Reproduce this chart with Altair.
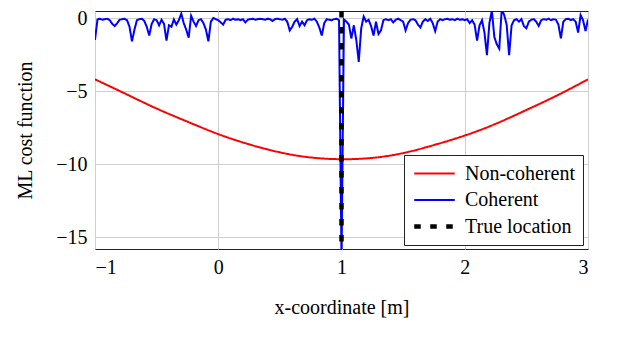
import altair as alt
import pandas as pd

# ---------------- data ----------------
series_names = ["Non-coherent", "Coherent", "True location"]
series_colors = ["#ff0000", "#0000ff", "#000000"]

x_ticks = [-1, 0, 1, 2, 3]
y_ticks = [-15, -10, -5, 0]

# Non-coherent ML cost (red)
nc_x = [-1.0, -0.75, -0.5, -0.25, 0.0, 0.25, 0.5, 0.75, 1.0,
        1.25, 1.5, 1.75, 2.0, 2.25, 2.5, 2.75, 3.0]
nc_y = [-4.2, -5.2, -6.2, -7.1, -7.95, -8.65, -9.2, -9.55, -9.67,
        -9.58, -9.25, -8.7, -8.05, -7.25, -6.3, -5.3, -4.2]

# Coherent ML cost (blue), sampled every 0.02 m from -1 to 3
coh_x = [round(-1 + 0.02 * i, 2) for i in range(201)]
coh_y = [
    -1.5, -0.1, -0.05, -0.12, -0.08, -0.05, -0.15, -0.4, -0.55, -0.35,
    -0.12, -0.08, -0.05, -0.15, -0.6, -1.6, -0.8, -0.15, -0.08, -0.05,
    -0.2, -0.6, -1.2, -0.4, -0.08, -0.15, -0.5, -0.12, -0.4, -1.55,
    -0.5, -0.6, -0.1, -0.45, -0.15, 0.3, -0.35, -0.8, -1.35, 0.15,
    -0.25, -0.55, -0.15, -0.08, -0.35, -0.8, -1.6, -0.25, 0.0, -0.08,
    -0.15, -0.3, -0.45, -0.12, -0.08, -0.15, -0.05, -0.12, -0.08, -0.15,
    -0.08, -0.3, -0.12, -0.08, -0.05, -0.12, -0.08, -0.05, -0.08, -0.12,
    -0.05, -0.08, -0.2, -0.08, -0.05, -0.08, -0.12, -0.05, -0.25, -0.85,
    -0.6, -0.25, -0.08, -0.55, -0.25, -0.5, -0.15, -0.08, -0.12, -0.05,
    -0.25, -0.65, -1.2, -0.35, -0.08, -0.12, -0.15, -0.08, -0.05, -0.15,
    -16.5, -0.1, -0.25, -0.45, -1.4, -0.5, -1.5, -3.0, -0.7, 0.1,
    -0.25, -0.12, -0.55, -1.2, -0.25, -1.1, -0.85, -0.15, -0.08, -0.15,
    -0.08, -0.3, -0.12, -0.05, -0.15, -0.25, -0.85, -0.35, -0.12, -0.08,
    -0.15, -0.45, -0.65, -0.25, -0.08, -0.2, -0.05, -0.35, -0.9, -0.25,
    -0.08, -0.15, -0.08, -0.05, -0.12, -0.08, -0.15, -0.05, -0.12, -0.08,
    -0.15, -0.08, -0.35, -0.15, -0.45, -1.55, -0.5, -0.15, -1.0, -2.55,
    -0.35, 0.5, -1.3, -1.8, -2.1, 0.6, 0.2, -0.45, -2.55, -0.5,
    -0.15, -0.08, -0.25, -0.08, -0.55, -0.7, -0.25, -0.12, -0.08, -0.25,
    -0.55, -0.15, -0.08, -0.12, -0.05, -0.15, -0.08, -0.12, -0.45, -1.4,
    -0.25, -0.08, -0.05, -0.15, -0.08, -0.25, -1.0, 0.2, -0.15, -0.9,
    -0.1,
]

true_x = [1.0]

# ---------------- frames ----------------
nc_df = pd.DataFrame({"x": nc_x, "y": nc_y, "series": "Non-coherent"})
coh_df = pd.DataFrame({"x": coh_x, "y": coh_y, "series": "Coherent"})
true_df = pd.DataFrame({"x": true_x, "series": ["True location"]})

FONT = "Liberation Serif"
FS = 20

x_scale = alt.Scale(domain=[-1, 3], nice=False, zero=False)
y_scale = alt.Scale(domain=[-15.82, 0.48], nice=False, zero=False)

x_axis = alt.Axis(values=x_ticks, title="x-coordinate [m]", grid=True, ticks=False,
                  domain=False, labelPadding=8, titlePadding=20)
y_axis = alt.Axis(values=y_ticks, title="ML cost function", grid=True, ticks=False,
                  domain=False, labelPadding=8, titlePadding=20)

legend = alt.Legend(
    title=None, orient="none", legendX=309, legendY=144, direction="vertical",
    fillColor="white", strokeColor="#222222", padding=8,
    symbolType="stroke", symbolSize=1640, labelOffset=8, clipHeight=21,
    labelFont=FONT, labelFontSize=FS, labelColor="black", rowPadding=5.5,
)

color_enc = alt.Color("series:N", scale=alt.Scale(domain=series_names, range=series_colors),
                      legend=legend)
dash_enc = alt.StrokeDash("series:N", scale=alt.Scale(domain=series_names,
                                                      range=[[1, 0], [1, 0], [6.5, 9.5]]),
                          legend=legend)
width_enc = alt.StrokeWidth("series:N", scale=alt.Scale(type="ordinal", domain=series_names,
                                                        range=[2.0, 2.0, 4.5]),
                            legend=legend)

red = alt.Chart(nc_df).mark_line(interpolate="natural", clip=True).encode(
    x=alt.X("x:Q", scale=x_scale, axis=x_axis),
    y=alt.Y("y:Q", scale=y_scale, axis=y_axis),
    color=color_enc, strokeDash=dash_enc, strokeWidth=width_enc,
)

blue = alt.Chart(coh_df).mark_line(clip=True, strokeJoin="miter").encode(
    x=alt.X("x:Q", scale=x_scale, axis=x_axis),
    y=alt.Y("y:Q", scale=y_scale, axis=y_axis),
    color=color_enc, strokeDash=dash_enc, strokeWidth=width_enc,
)

rule = alt.Chart(true_df).mark_rule(clip=True, strokeCap="butt").encode(
    x=alt.X("x:Q", scale=x_scale, axis=x_axis),
    color=color_enc, strokeDash=dash_enc, strokeWidth=width_enc,
)

chart = alt.layer(red, blue, rule).properties(
    width=493, height=238,
    padding={"left": 87, "top": 3, "right": 20, "bottom": 80},
    autosize=alt.AutoSizeParams(type="none"),
).configure_view(
    stroke="#222222", strokeWidth=1
).configure_axis(
    gridColor="#cfcfcf", gridWidth=1,
    labelFont=FONT, labelFontSize=FS, labelColor="black",
    titleFont=FONT, titleFontSize=FS, titleFontWeight="normal", titleColor="black",
)

chart.save("out.html", embed_options={"renderer": "svg", "actions": False})
